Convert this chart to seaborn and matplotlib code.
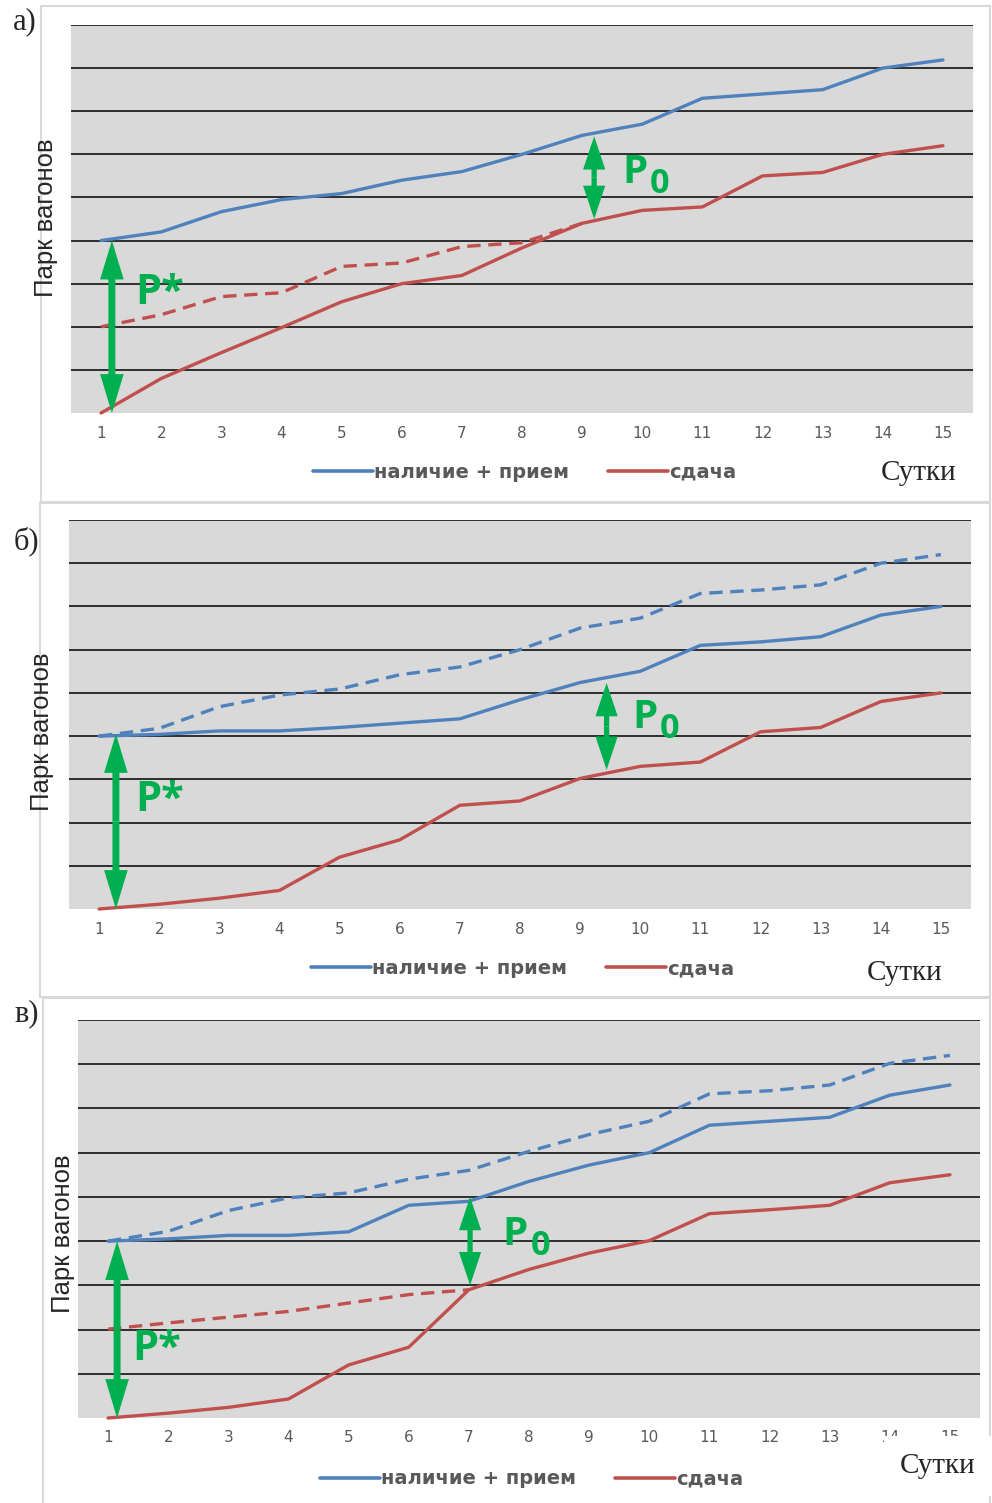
import numpy as np
import pandas as pd
import matplotlib.pyplot as plt
import seaborn as sns
from matplotlib.patches import Rectangle

# ── Данные (в делениях сетки) ────────────────────────────────
days = list(range(1, 16))

# а)
a_supply = [4.0, 4.2, 4.67, 4.95, 5.09, 5.4, 5.6, 6.0, 6.44, 6.7, 7.3, 7.4, 7.5, 8.0, 8.19]
a_deliv = [0.0, 0.8, 1.4, 1.98, 2.58, 3.0, 3.19, 3.83, 4.4, 4.7, 4.78, 5.5, 5.58, 6.0, 6.2]
a_deliv_shift = [2.0, 2.28, 2.7, 2.79, 3.4, 3.48, 3.86, 3.95, 4.4]

# б)
b_supply = [4.0, 4.04, 4.12, 4.12, 4.2, 4.3, 4.4, 4.84, 5.24, 5.5, 6.1, 6.18, 6.3, 6.8, 7.0]
b_supply_shift = [4.0, 4.18, 4.68, 4.95, 5.09, 5.42, 5.6, 6.0, 6.5, 6.73, 7.3, 7.38, 7.5, 8.0, 8.2]
b_deliv = [0.0, 0.11, 0.25, 0.43, 1.2, 1.6, 2.4, 2.5, 3.02, 3.3, 3.4, 4.1, 4.2, 4.8, 5.0]

# в)
c_supply = [4.0, 4.05, 4.13, 4.13, 4.21, 4.81, 4.9, 5.35, 5.72, 6.0, 6.62, 6.71, 6.8, 7.3, 7.53]
c_supply_shift = [4.0, 4.22, 4.69, 4.98, 5.09, 5.4, 5.6, 6.03, 6.41, 6.71, 7.33, 7.4, 7.53, 8.02, 8.2]
c_deliv = [0.0, 0.11, 0.24, 0.43, 1.2, 1.6, 2.9, 3.36, 3.73, 4.01, 4.62, 4.71, 4.81, 5.32, 5.5]
c_deliv_shift = [2.01, 2.15, 2.28, 2.41, 2.6, 2.79, 2.9]

legend_labels = ['наличие + прием', 'сдача']

# ── Оформление ────────────────────────────────────────────────
AZUL = '#4F81BD'
ROJO = '#C0504D'
VERDE = '#00B050'
GRIS = '#D9D9D9'
FUENTE_P = 'Open Sans'

sns.set_theme(style='white')
plt.rcParams['font.family'] = ['DejaVu Sans']

W, H = 992, 1503
fig = plt.figure(figsize=(W / 100, H / 100), dpi=100)


def rect_px(l, t, r, b):
    return [l / W, 1 - b / H, (r - l) / W, (b - t) / H]


def marco(l, t, r, b):
    fig.add_artist(Rectangle((l / W, 1 - b / H), (r - l) / W, (b - t) / H,
                             transform=fig.transFigure, fill=False,
                             edgecolor=GRIS, lw=1.5))


def flecha(ax, x, y0, y1, cola=0.5, cabeza=2.8, ancho=1.7):
    # двусторонняя стрелка: две половины от середины
    medio = (y0 + y1) / 2
    estilo = f'simple,head_length={cabeza},head_width={ancho},tail_width={cola}'
    for extremo in (y0, y1):
        ax.annotate('', xy=(x, extremo), xytext=(x, medio),
                    arrowprops=dict(arrowstyle=estilo, fc=VERDE, ec='none', lw=0,
                                    mutation_scale=10, shrinkA=0, shrinkB=0),
                    zorder=6)


def etiqueta_p0(ax, x, y, size=29):
    ax.text(x, y, 'P', color=VERDE, fontsize=size, fontweight='bold',
            family=FUENTE_P, ha='left', va='center', zorder=7)
    ax.annotate('0', xy=(x, y), xytext=(20, -8), textcoords='offset points',
                color=VERDE, fontsize=size * 0.85, fontweight='bold',
                family=FUENTE_P, ha='left', va='center', zorder=7)


def panel(rect, supply, deliv, supply_shift=None, shift_days=None, deliv_shift=None):
    ax = fig.add_axes(rect)
    ax.set_facecolor(GRIS)
    if supply_shift is not None:
        sns.lineplot(x=days, y=supply_shift, ax=ax, color=AZUL, lw=2.4,
                     linestyle=(0, (4, 2.3)), clip_on=False, zorder=3)
    sns.lineplot(x=days, y=supply, ax=ax, color=AZUL, lw=2.4, label=legend_labels[0],
                 solid_capstyle='round', clip_on=False, zorder=3)
    if deliv_shift is not None:
        sns.lineplot(x=shift_days, y=deliv_shift, ax=ax, color=ROJO, lw=2.4,
                     linestyle=(0, (4, 2.3)), clip_on=False, zorder=3)
    sns.lineplot(x=days, y=deliv, ax=ax, color=ROJO, lw=2.4, label=legend_labels[1],
                 solid_capstyle='round', clip_on=False, zorder=3)

    ax.set_xlim(0.5, 15.5)
    ax.set_ylim(0, 9)
    ax.set_xticks(days)
    ax.set_yticks(range(1, 10))
    ax.set_yticklabels([])
    ax.yaxis.grid(True, color='black', lw=1.1, zorder=1)
    ax.xaxis.grid(False)
    ax.set_axisbelow(True)
    for s in ax.spines.values():
        s.set_visible(False)
    ax.tick_params(axis='both', length=0)
    ax.tick_params(axis='x', colors='#595959', labelsize=11, pad=9)
    ax.set_xlabel('')
    ax.set_ylabel('')
    leg = ax.legend(loc='center', bbox_to_anchor=(0.503, -0.153), ncol=2, frameon=False,
                    handlelength=3.1, handletextpad=0.05, columnspacing=2.0,
                    prop={'weight': 'bold', 'size': 14})
    for t in leg.get_texts():
        t.set_color('#595959')
    for h in leg.legend_handles:
        h.set_linewidth(2.6)
    return ax


# ── Рамки ────────────────────────────────────────────────────
marco(41, 6, 990, 502)
marco(40, 503, 990, 997)
marco(43, 998, 990, 1520)

# ── а) ───────────────────────────────────────────────────────
ax_a = panel(rect_px(71, 25, 973, 413), a_supply, a_deliv,
             shift_days=days[:len(a_deliv_shift)], deliv_shift=a_deliv_shift)
flecha(ax_a, 1.18, 0.0, 4.0)
ax_a.text(1.57, 2.78, 'P*', color=VERDE, fontsize=30, fontweight='bold', family=FUENTE_P,
          ha='left', va='center', zorder=7)
flecha(ax_a, 9.2, 4.5, 6.42, cola=0.38, cabeza=2.4, ancho=1.6)
etiqueta_p0(ax_a, 9.67, 5.57)

# ── б) ───────────────────────────────────────────────────────
ax_b = panel(rect_px(69, 520, 971, 909), b_supply, b_deliv, supply_shift=b_supply_shift)
flecha(ax_b, 1.28, 0.0, 4.05)
ax_b.text(1.6, 2.52, 'P*', color=VERDE, fontsize=30, fontweight='bold', family=FUENTE_P,
          ha='left', va='center', zorder=7)
flecha(ax_b, 9.44, 3.22, 5.23, cola=0.38, cabeza=2.4, ancho=1.6)
etiqueta_p0(ax_b, 9.87, 4.42)

# ── в) ───────────────────────────────────────────────────────
ax_c = panel(rect_px(78, 1020, 980, 1418), c_supply, c_deliv, supply_shift=c_supply_shift,
             shift_days=days[:len(c_deliv_shift)], deliv_shift=c_deliv_shift)
flecha(ax_c, 1.15, 0.0, 4.0)
ax_c.text(1.4, 1.54, 'P*', color=VERDE, fontsize=30, fontweight='bold', family=FUENTE_P,
          ha='left', va='center', zorder=7)
flecha(ax_c, 7.02, 3.0, 5.0, cola=0.38, cabeza=2.4, ancho=1.6)
etiqueta_p0(ax_c, 7.56, 4.14)

# ── Подписи ──────────────────────────────────────────────────
for txt, x, y in [('а)', 25, 22), ('б)', 26, 541), ('в)', 27, 1014)]:
    fig.text(x / W, 1 - y / H, txt, family='Liberation Serif', fontsize=22,
             ha='center', va='center')

for x, y in [(46, 218), (42, 732), (63, 1234)]:
    fig.text(x / W, 1 - y / H, 'Парк вагонов', family='Liberation Sans', fontsize=18.5,
             rotation=90, ha='center', va='center')

for x, y, pad in [(919, 473, 6), (905, 973, 6), (938, 1466, 12)]:
    fig.text(x / W, 1 - y / H, 'Сутки', family='Liberation Serif', fontsize=21,
             ha='center', va='center',
             bbox=dict(facecolor='white', edgecolor='none', pad=pad))

plt.savefig('out.png', dpi=100)
